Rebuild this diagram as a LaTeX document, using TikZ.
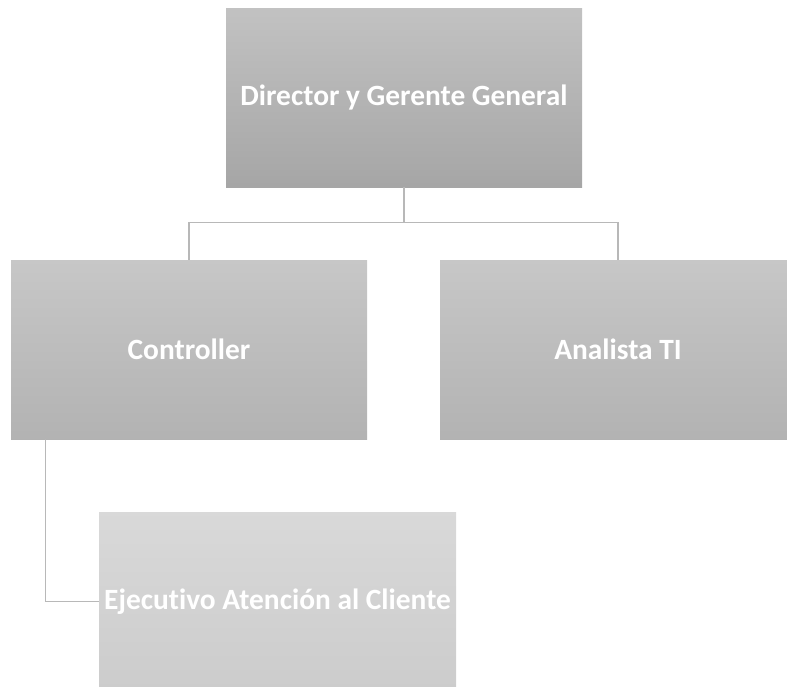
\documentclass[tikz,border=0pt]{standalone}
\usepackage{fontspec}
\setmainfont{Carlito}[Ligatures=NoCommon]
\usepackage{tikz}
\usetikzlibrary{positioning,calc}

\begin{document}
\begin{tikzpicture}[
  x=1pt, y=-1pt,
  orgbox/.style={rectangle, minimum width=356pt, minimum height=179pt, inner sep=2pt,
    align=center, text=white, font=\fontsize{29.4}{34}\selectfont\bfseries},
  toplevel/.style={orgbox, top color=black!24, bottom color=black!35},
  midlevel/.style={orgbox, top color=black!22, bottom color=black!30},
  lowlevel/.style={orgbox, top color=black!15, bottom color=black!20},
  link/.style={draw=black!28, line width=1.1pt}
]
\useasboundingbox (0,0) rectangle (787,686);
\begin{scope}
\clip (0,0) rectangle (787,686);
\node[toplevel] (DIR) at (404,97.5) {Director y Gerente General};
\node[midlevel] (CTRL) at (189,349.5) {Controller};
\node[midlevel] (ANA) at (618,349.5) {Analista TI};
\node[lowlevel, minimum width=357pt] (EJEC) at (277.5,601.5) {Ejecutivo Atención al Cliente};
\coordinate (BUS) at ($(DIR.south)+(0,35.5)$);
\coordinate (DROP) at ($(CTRL.south west)+(35,0)$);

\draw[link] (DIR.south)--(BUS);
\draw[link] (BUS)-|(CTRL.north);
\draw[link] (BUS)-|(ANA.north);
\draw[link] (DROP)|-(EJEC.west);
\end{scope}
\end{tikzpicture}
\end{document}
